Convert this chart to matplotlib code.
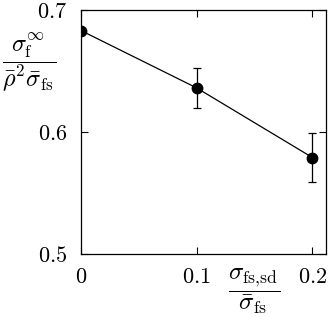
import matplotlib
matplotlib.use("Agg")
from matplotlib import pyplot as plt

# data
x = [0.0, 0.1, 0.2]
y = [0.683, 0.636, 0.579]
yerr = [0.0, 0.0165, 0.020]

xticks = [0.0, 0.1, 0.2]
xticklabels = ["$0$", "$0.1$", "$0.2$"]
yticks = [0.5, 0.6, 0.7]
yticklabels = ["$0.5$", "$0.6$", "$0.7$"]

plt.rcParams['mathtext.fontset'] = 'cm'
plt.rcParams['font.family'] = 'serif'
plt.rcParams['font.serif'] = ['DejaVu Serif']

fig = plt.figure(figsize=(3.28, 3.17), dpi=100)
ax = fig.add_axes([0.247, 0.199, 0.748, 0.770])

ax.errorbar(x, y, yerr=yerr, color='black', lw=0.9, marker='o', ms=7.5,
            capsize=2.8, elinewidth=0.9, capthick=0.9)

ax.set_xlim(0, 0.2121)
ax.set_ylim(0.5, 0.7)
ax.set_xticks(xticks)
ax.set_xticklabels(xticklabels)
ax.set_yticks(yticks)
ax.set_yticklabels(yticklabels)
ax.tick_params(direction='in', top=True, right=True, length=5, width=0.8,
               labelsize=16)
ax.tick_params(axis='x', pad=9)
ax.tick_params(axis='y', pad=10)
for s in ax.spines.values():
    s.set_linewidth(0.9)

ax.text(-0.213, 0.785,
        r"$\dfrac{\sigma_{\mathrm{f}}^{\infty}}{\bar{\rho}^2\bar{\sigma}_{\mathrm{fs}}}$",
        transform=ax.transAxes, ha='center', va='center', fontsize=17.5)
ax.text(0.706, -0.152,
        r"$\dfrac{\sigma_{\mathrm{fs,\!sd}}}{\bar{\sigma}_{\mathrm{fs}}}$",
        transform=ax.transAxes, ha='center', va='center', fontsize=18)

fig.savefig("out.png", dpi=100)
